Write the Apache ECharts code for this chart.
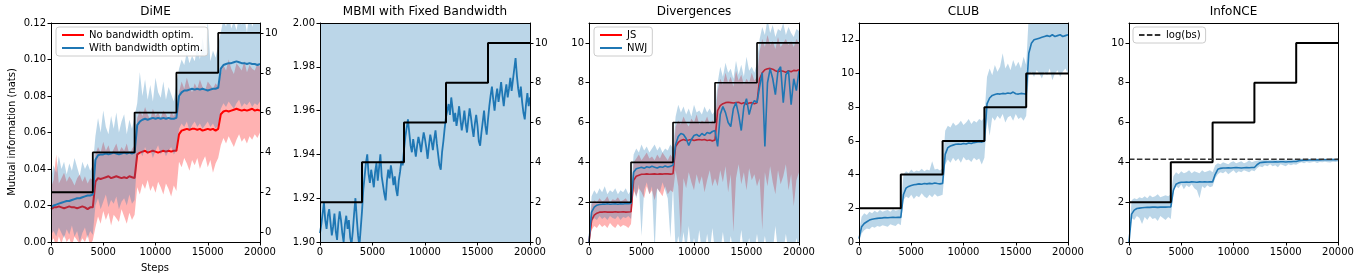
<!DOCTYPE html>
<html><head><meta charset="utf-8">
<script src="https://cdn.jsdelivr.net/npm/echarts@6/dist/echarts.min.js"></script>
<style>html,body{margin:0;padding:0;background:#fff}#c{width:1360px;height:280px}</style>
</head><body><div id="c"></div>
<script>
// ---------------- DATA (logged every DX training steps) ----------------
const DX = 250;
const DX_MBMI = 125;
const stepX = [0, 4000, 8000, 12000, 16000, 20000];
const trueMI = [2, 4, 6, 8, 10, 10];
const logBs = 4.16;
const titles = ['DiME', 'MBMI with Fixed Bandwidth', 'Divergences', 'CLUB', 'InfoNCE'];
const xTicks = [0, 5000, 10000, 15000, 20000];

// DiME (nats, left axis)
const dimeRed = [0.018,0.019,0.019,0.0195,0.019,0.0185,0.019,0.0195,0.019,0.019,0.0185,0.019,0.0195,0.019,0.018,0.019,0.019,
 0.033,0.035,0.0345,0.035,0.0355,0.036,0.035,0.0355,0.036,0.0355,0.035,0.0355,0.035,0.036,0.0355,0.035,
 0.048,0.049,0.0495,0.05,0.049,0.0495,0.05,0.0495,0.049,0.0495,0.05,0.0495,0.05,0.0495,0.05,0.05,
 0.059,0.061,0.0615,0.062,0.0615,0.062,0.062,0.0615,0.062,0.061,0.0615,0.062,0.0615,0.062,0.061,0.062,
 0.07,0.0715,0.072,0.0715,0.072,0.0725,0.073,0.0725,0.072,0.0725,0.072,0.0725,0.073,0.072,0.0725,0.072];
const dimeRedLo = [0.0,0.002,-0.003,0.003,-0.001,0.004,0.0,0.002,-0.002,0.003,0.001,-0.001,0.002,0.0,0.004,-0.002,0.001,
 0.008,0.014,0.01,0.017,0.012,0.016,0.009,0.015,0.013,0.011,0.018,0.014,0.01,0.016,0.012,0.015,
 0.03,0.026,0.032,0.029,0.034,0.028,0.031,0.027,0.033,0.03,0.026,0.032,0.029,0.025,0.031,0.028,
 0.044,0.041,0.046,0.043,0.039,0.045,0.042,0.046,0.04,0.044,0.047,0.041,0.045,0.038,0.043,0.046,
 0.053,0.057,0.054,0.058,0.055,0.052,0.056,0.059,0.055,0.057,0.054,0.058,0.056,0.059,0.057,0.06];
const dimeRedHi = [0.03,0.034,0.048,0.032,0.035,0.038,0.033,0.036,0.034,0.031,0.035,0.037,0.033,0.036,0.032,0.035,0.034,
 0.048,0.052,0.049,0.055,0.05,0.053,0.048,0.051,0.054,0.049,0.052,0.05,0.054,0.048,0.051,0.053,
 0.068,0.072,0.069,0.074,0.07,0.067,0.073,0.069,0.071,0.068,0.072,0.07,0.067,0.071,0.069,0.072,
 0.082,0.088,0.084,0.09,0.085,0.082,0.087,0.084,0.089,0.085,0.083,0.088,0.086,0.084,0.087,0.085,
 0.092,0.097,0.094,0.1,0.095,0.092,0.098,0.096,0.094,0.099,0.093,0.097,0.095,0.094,0.098,0.096];
const dimeBlue = [0.019,0.02,0.0205,0.021,0.0215,0.022,0.0225,0.0225,0.023,0.0235,0.024,0.024,0.0245,0.025,0.0255,0.0255,0.026,
 0.045,0.0475,0.048,0.048,0.0485,0.048,0.0485,0.049,0.0485,0.048,0.0485,0.049,0.0485,0.049,0.0485,0.049,
 0.064,0.066,0.067,0.0675,0.067,0.0675,0.068,0.0675,0.068,0.0675,0.068,0.0675,0.068,0.0675,0.0675,0.068,
 0.08,0.082,0.083,0.083,0.0835,0.084,0.0835,0.084,0.0835,0.084,0.0835,0.083,0.0835,0.084,0.084,0.0845,
 0.095,0.097,0.0975,0.098,0.098,0.0985,0.099,0.0985,0.098,0.098,0.0975,0.098,0.0975,0.0975,0.097,0.0975];
const dimeBlueLo = [0.004,0.006,0.003,0.008,0.005,0.002,0.007,0.004,0.009,0.003,0.006,0.0,0.005,0.008,0.002,0.006,0.004,
 0.02,0.024,0.018,0.022,0.026,0.019,0.023,0.021,0.025,0.018,0.022,0.024,0.02,0.026,0.021,0.023,
 0.046,0.05,0.047,0.052,0.048,0.051,0.046,0.05,0.053,0.048,0.051,0.047,0.05,0.052,0.048,0.05,
 0.062,0.065,0.063,0.066,0.061,0.064,0.066,0.063,0.065,0.062,0.064,0.066,0.063,0.065,0.062,0.064,
 0.073,0.076,0.074,0.077,0.075,0.073,0.076,0.078,0.074,0.076,0.075,0.077,0.074,0.076,0.075,0.077];
const dimeBlueHi = [0.035,0.042,0.038,0.047,0.04,0.044,0.037,0.043,0.039,0.046,0.041,0.036,0.044,0.04,0.043,0.039,0.042,
 0.058,0.068,0.06,0.072,0.063,0.059,0.069,0.062,0.071,0.06,0.066,0.07,0.059,0.067,0.062,0.069,
 0.076,0.093,0.08,0.089,0.078,0.086,0.077,0.09,0.082,0.079,0.088,0.078,0.085,0.081,0.077,0.087,
 0.095,0.1,0.097,0.104,0.098,0.102,0.099,0.107,0.1,0.112,0.103,0.121,0.099,0.105,0.101,0.108,
 0.115,0.122,0.118,0.125,0.117,0.121,0.116,0.124,0.119,0.123,0.115,0.126,0.118,0.122,0.12,0.124];

// MBMI with fixed bandwidth (logged every DX_MBMI steps)
const mbmi = [1.904,1.908,1.913,1.918,1.91,1.906,1.912,1.915,1.909,1.903,1.907,1.913,1.905,1.901,1.909,1.914,1.91,1.904,1.9,1.908,1.912,1.906,1.91,1.902,1.899,1.905,1.913,1.92,1.911,1.903,1.898,1.906,1.914,
 1.924,1.93,1.936,1.94,1.931,1.927,1.933,1.929,1.925,1.932,1.936,1.928,1.934,1.94,1.93,1.926,1.922,1.919,1.928,1.933,1.929,1.935,1.931,1.926,1.93,1.924,1.921,1.928,1.932,1.937,1.935,1.942,
 1.948,1.952,1.956,1.95,1.944,1.941,1.947,1.943,1.939,1.944,1.948,1.945,1.941,1.946,1.95,1.947,1.943,1.938,1.944,1.949,1.946,1.942,1.947,1.951,1.945,1.94,1.935,1.933,1.941,1.946,1.952,1.957,
 1.96,1.963,1.958,1.966,1.961,1.955,1.959,1.953,1.957,1.962,1.956,1.951,1.955,1.96,1.954,1.95,1.956,1.961,1.957,1.952,1.948,1.954,1.958,1.953,1.946,1.944,1.95,1.955,1.96,1.953,1.949,1.956,
 1.962,1.967,1.971,1.965,1.96,1.966,1.97,1.964,1.968,1.973,1.967,1.962,1.968,1.972,1.966,1.97,1.975,1.969,1.974,1.979,1.984,1.976,1.97,1.966,1.971,1.964,1.959,1.956,1.963,1.968,1.962,1.966];
const mbmiLo = [1.78, 1.80, 1.82, 1.83, 1.85, 1.86];   // at stepX
const mbmiHi = [2.03, 2.05, 2.07, 2.08, 2.10, 2.11];   // at stepX

// Divergences
const jsMean = [0.0,1.1,1.35,1.45,1.5,1.5,1.52,1.5,1.51,1.5,1.52,1.5,1.51,1.52,1.5,1.51,1.52,
 3.1,3.3,3.35,3.4,3.4,3.42,3.4,3.41,3.42,3.4,3.42,3.41,3.43,3.42,3.41,3.43,
 4.8,5.0,5.1,5.15,5.1,5.12,5.15,5.1,5.13,5.15,5.12,5.15,5.1,5.12,5.08,5.12,
 6.6,6.85,6.95,7.0,7.02,7.0,6.98,7.0,7.02,6.95,7.0,6.92,6.98,7.0,6.95,7.0,
 8.2,8.5,8.65,8.7,8.72,8.68,8.6,8.55,8.6,8.58,8.52,8.6,8.55,8.62,8.6,8.65];
const jsLo = [0.0,0.6,0.8,0.7,0.9,0.75,0.85,0.7,0.95,0.8,0.7,0.9,0.75,0.85,0.8,0.7,0.9,
 2.6,2.3,2.7,2.5,2.2,2.8,2.4,2.6,2.1,2.7,2.5,2.3,2.8,2.4,2.6,2.5,
 3.6,2.8,0.2,3.2,2.7,3.5,3.0,2.6,3.4,2.9,3.3,2.5,3.1,3.6,2.8,3.2,
 2.8,3.6,3.0,3.8,2.5,3.4,0.5,3.2,3.9,2.9,3.5,2.6,3.7,3.1,3.4,2.8,
 3.2,0.6,3.5,2.8,3.8,3.0,2.4,3.6,2.9,3.3,3.9,2.6,3.4,1.8,3.1,3.5];
const jsHi = [0.5,1.9,2.1,2.0,2.2,2.05,2.1,2.3,2.0,2.15,2.1,2.25,2.05,2.1,2.2,2.0,2.1,
 4.0,4.2,4.4,4.1,4.3,4.5,4.2,4.3,4.1,4.4,4.2,4.5,4.3,4.1,4.4,4.2,
 5.8,6.1,5.9,6.3,6.0,5.8,6.2,6.0,6.4,5.9,6.1,6.0,6.3,5.9,6.1,6.0,
 7.6,8.2,7.9,8.5,8.0,8.3,7.8,8.6,8.1,8.4,7.9,8.2,8.0,8.5,8.1,8.3,
 9.6,10.2,9.8,10.4,9.9,10.1,9.7,10.3,9.8,10.0,10.2,9.9,10.1,9.8,10.2,10.0];
const nwjMean = [0.0,1.5,1.75,1.85,1.88,1.9,1.9,1.92,1.9,1.91,1.92,1.9,1.92,1.91,1.93,1.92,1.93,
 3.5,3.68,3.72,3.75,3.7,3.78,3.74,3.8,3.76,3.72,3.78,3.75,3.82,3.77,3.8,3.85,
 4.9,5.3,5.45,5.4,5.2,4.85,5.15,5.35,5.4,5.3,5.45,5.35,5.5,5.45,5.55,5.6,
 4.8,6.4,6.8,6.5,6.0,5.8,6.7,7.0,6.4,5.6,6.8,7.2,6.4,6.9,7.1,7.0,
 7.8,8.5,4.8,8.0,8.7,8.2,7.4,8.6,8.8,7.0,8.4,8.6,6.9,8.2,7.6,8.6];
const nwjLo = [0.0,1.0,1.2,1.1,1.3,1.15,1.25,1.1,1.3,1.2,1.15,1.3,1.1,1.25,1.2,1.3,1.15,
 2.8,2.2,2.9,0.3,2.6,3.0,2.4,2.8,-0.5,2.7,2.5,3.0,2.6,2.2,0.2,2.8,
 -0.5,0.3,-0.5,0.5,-0.5,0.8,-0.5,0.2,-0.5,0.6,-0.5,-0.5,0.4,-0.5,0.7,-0.5,
 -0.5,-0.5,0.5,-0.5,-0.5,0.3,-0.5,-0.5,-0.5,0.6,-0.5,-0.5,0.2,-0.5,-0.5,0.4,
 -0.5,-0.5,0.3,-0.5,-0.5,-0.5,0.8,-0.5,-0.5,-0.5,0.4,-0.5,-0.5,-0.5,0.2,-0.5];
const nwjHi = [0.5,2.3,2.6,2.4,2.7,2.5,2.8,2.4,2.6,2.5,2.7,2.4,2.6,2.5,2.7,2.4,2.6,
 4.4,4.7,4.5,4.9,4.6,4.8,4.5,4.7,4.9,4.6,4.8,4.5,4.7,4.6,4.9,4.7,
 6.3,6.9,6.5,6.8,6.4,6.7,6.3,6.9,6.5,6.6,6.4,6.8,6.5,6.7,6.4,6.6,
 8.0,8.8,8.3,9.0,8.5,8.7,8.2,9.1,8.4,8.9,8.3,9.3,8.6,8.8,8.5,9.0,
 10.2,10.8,10.4,11.2,10.5,10.9,10.3,10.7,10.6,11.0,10.4,10.8,10.5,10.3,10.7,10.6];

// CLUB
const club = [0.2,0.9,1.1,1.2,1.3,1.35,1.38,1.4,1.42,1.43,1.45,1.44,1.45,1.46,1.45,1.47,1.46,
 2.8,3.2,3.3,3.35,3.4,3.42,3.45,3.43,3.47,3.45,3.48,3.46,3.5,3.47,3.45,3.48,
 5.2,5.6,5.7,5.75,5.8,5.82,5.8,5.85,5.82,5.88,5.85,5.9,5.92,5.95,5.93,5.98,
 8.2,8.55,8.7,8.75,8.8,8.78,8.82,8.8,8.85,8.82,8.9,8.8,8.78,8.82,8.8,8.78,
 11.2,11.8,12.0,12.05,12.1,12.15,12.2,12.25,12.2,12.3,12.2,12.25,12.3,12.2,12.25,12.3];
const clubLo = [0.0,0.5,0.7,0.8,0.75,0.9,0.85,0.95,0.9,1.0,0.95,0.9,1.05,1.0,0.95,1.1,1.0,
 2.5,2.7,2.6,2.8,2.55,2.75,2.65,2.9,2.7,2.6,2.8,2.65,2.85,2.7,2.75,2.8,
 4.6,4.9,4.7,5.0,4.8,4.95,4.7,5.05,4.85,4.9,4.75,5.0,4.85,4.95,4.6,5.0,
 7.3,6.3,7.4,7.2,7.5,7.3,7.6,7.1,7.4,7.5,7.2,7.6,7.3,7.4,7.2,7.5,
 9.9,10.1,9.8,10.2,10.0,9.7,10.1,9.9,10.3,9.6,10.0,10.2,9.8,10.1,10.3,10.0];
const clubHi = [0.6,1.5,1.7,1.6,1.8,1.7,1.85,1.75,1.9,1.8,1.85,1.9,1.8,1.95,1.85,1.9,1.95,
 4.0,4.2,4.1,4.3,4.15,4.25,4.2,4.35,4.2,4.3,4.25,4.8,4.3,4.35,4.25,4.4,
 6.6,6.9,6.8,7.1,6.9,7.0,7.2,6.95,7.1,7.3,7.0,7.2,7.1,7.3,7.2,7.4,
 9.8,10.3,9.9,10.5,10.1,10.4,11.2,10.3,10.6,10.2,10.8,10.4,10.7,10.3,11.0,10.5,
 13.5,14.2,14.0,14.5,14.1,14.3,14.6,14.2,14.4,14.1,14.5,14.3,14.2,14.6,14.4,14.3];

// InfoNCE
const nce = [0.0,1.4,1.6,1.68,1.7,1.72,1.73,1.74,1.74,1.75,1.75,1.74,1.75,1.76,1.75,1.76,1.76,
 2.6,2.9,2.97,3.0,3.0,3.01,3.0,3.02,3.01,3.0,3.02,3.01,3.02,3.01,3.02,3.02,
 3.4,3.65,3.7,3.72,3.72,3.73,3.72,3.73,3.74,3.73,3.72,3.73,3.74,3.73,3.74,3.74,
 3.88,3.98,4.0,4.01,4.02,4.02,4.02,4.03,4.02,4.03,4.03,4.02,4.03,4.03,4.04,4.04,
 4.08,4.1,4.11,4.11,4.12,4.12,4.12,4.13,4.12,4.13,4.13,4.13,4.13,4.14,4.13,4.14];
const nceLo = [0.0,1.2,1.1,1.3,1.2,0.9,1.25,1.1,1.3,1.15,1.2,1.05,1.3,1.2,1.1,1.25,1.15,
 2.6,2.8,2.7,2.9,2.65,2.85,2.75,2.9,2.7,2.6,2.2,2.8,2.7,2.85,2.75,2.8,
 3.2,3.4,3.5,3.45,3.55,3.4,3.5,3.6,3.45,3.55,3.5,3.6,3.55,3.5,3.6,3.55,
 3.7,3.8,3.75,3.85,3.8,3.9,3.8,3.85,3.75,3.9,3.85,3.8,3.9,3.85,3.9,3.88,
 3.95,4.0,3.95,4.02,3.98,4.0,4.03,3.97,4.02,4.0,4.03,4.01,3.99,4.03,4.02,4.04];
const nceHi = [0.3,2.1,2.2,2.15,2.25,2.2,2.3,2.2,2.35,2.25,2.3,2.4,2.25,2.3,2.35,2.3,2.4,
 3.3,3.5,3.4,3.55,3.45,3.5,3.6,3.45,3.55,3.5,3.45,3.6,3.5,3.55,3.6,3.5,
 3.85,3.95,3.9,4.0,3.95,3.9,4.0,4.05,3.95,4.0,4.05,3.95,4.0,4.1,4.0,4.05,
 4.08,4.12,4.1,4.14,4.1,4.12,4.15,4.1,4.13,4.12,4.14,4.12,4.15,4.13,4.14,4.15,
 4.15,4.18,4.16,4.2,4.17,4.19,4.18,4.2,4.17,4.19,4.2,4.18,4.19,4.2,4.18,4.2];

// ---------------- CHART ----------------
const FONT = 'DejaVu Sans';
const BLUE = '#1f77b4', RED = '#ff0000';
const BLUE_BAND = 'rgba(31,119,180,0.3)', RED_BAND = 'rgba(255,0,0,0.3)';
const GR = [[51,209],[320,210],[589,210],[859,209],[1129,209]];
const TOP = 23, H = 219;

const xsOf = (arr, dx) => arr.map((_, i) => i * dx);
const pairs = (xs, ys) => ys.map((v, i) => [xs[i], v]);

const grid = GR.map(([l, w]) => ({left: l, top: TOP, width: w, height: H, containLabel: false}));

const xAxis = [];
GR.forEach((_, g) => {
  ['bottom', 'top'].forEach(pos => {
    xAxis.push({type: 'value', gridIndex: g, position: pos, min: 0, max: 20000, z: 10,
      axisLine: {show: true, onZero: false, lineStyle: {color: '#000', width: 1}},
      axisTick: {show: pos === 'bottom', length: 3.5, lineStyle: {color: '#000', width: 1}, customValues: xTicks},
      axisLabel: {show: pos === 'bottom', color: '#000', fontSize: 10, fontFamily: FONT, margin: 5,
        customValues: xTicks, formatter: v => String(v)},
      splitLine: {show: false}});
  });
});

const evenTicks = n => { const t = []; for (let v = 0; v <= n; v += 2) t.push(v); return t; };
const yConf = [
  {left: {min: 0, max: 0.12, ticks: [0, 0.02, 0.04, 0.06, 0.08, 0.1, 0.12], fmt: v => v.toFixed(2)},
   right: {min: -0.5, max: 10.5, ticks: evenTicks(10), show: true}},
  {left: {min: 1.9, max: 2.0, ticks: [1.9, 1.92, 1.94, 1.96, 1.98, 2.0], fmt: v => v.toFixed(2)},
   right: {min: 0, max: 11, ticks: evenTicks(10), show: true}},
  {left: {min: 0, max: 11, ticks: evenTicks(10)}, right: {min: 0, max: 11, ticks: [], show: false}},
  {left: {min: 0, max: 13, ticks: evenTicks(12)}, right: {min: 0, max: 13, ticks: [], show: false}},
  {left: {min: 0, max: 11, ticks: evenTicks(10)}, right: {min: 0, max: 11, ticks: [], show: false}},
];
const yAxis = [];
yConf.forEach((c, g) => {
  ['left', 'right'].forEach(pos => {
    const s = c[pos];
    const show = pos === 'left' ? true : s.show;
    yAxis.push({type: 'value', gridIndex: g, position: pos, min: s.min, max: s.max, z: 10,
      axisLine: {show: true, onZero: false, lineStyle: {color: '#000', width: 1}},
      axisTick: {show: show, length: 3.5, lineStyle: {color: '#000', width: 1}, customValues: s.ticks},
      axisLabel: {show: show, color: '#000', fontSize: 10, fontFamily: FONT, margin: 5,
        customValues: s.ticks, formatter: s.fmt || (v => String(Math.round(v)))},
      splitLine: {show: false}});
  });
});

function line(name, xs, ys, color, g, yi, width, z, extra) {
  return Object.assign({type: 'line', name: name, xAxisIndex: 2 * g, yAxisIndex: yi,
    data: pairs(xs, ys), showSymbol: false, symbol: 'none', animation: false, silent: true, z: z,
    lineStyle: {color: color, width: width}, itemStyle: {color: color}}, extra || {});
}
// shaded spread: polygon through the upper values then back along the lower values
function band(xs, lo, hi, color, g, yi, z) {
  return {type: 'custom', xAxisIndex: 2 * g, yAxisIndex: yi, clip: true, silent: true, z: z, animation: false,
    data: [[xs[0], lo[0]]], encode: {x: 0, y: 1},
    renderItem: (params, api) => {
      const pts = [];
      for (let i = 0; i < xs.length; i++) pts.push(api.coord([xs[i], hi[i]]));
      for (let i = xs.length - 1; i >= 0; i--) pts.push(api.coord([xs[i], lo[i]]));
      return {type: 'polygon', shape: {points: pts}, style: {fill: color}};
    }};
}
function steps(g, yi, z, w) {
  return line('true', stepX, trueMI, '#000', g, yi, w, z, {step: 'end'});
}

const X = xsOf(dimeRed, DX);
const XM = xsOf(mbmi, DX_MBMI);
const series = [
  band(X, dimeRedLo, dimeRedHi, RED_BAND, 0, 0, 2),
  line('No bandwidth optim.', X, dimeRed, RED, 0, 0, 2, 3),
  band(X, dimeBlueLo, dimeBlueHi, BLUE_BAND, 0, 0, 4),
  line('With bandwidth optim.', X, dimeBlue, BLUE, 0, 0, 2, 5),
  steps(0, 1, 6, 1.8),

  band(stepX, mbmiLo, mbmiHi, BLUE_BAND, 1, 2, 2),
  line('MBMI', XM, mbmi, BLUE, 1, 2, 1.8, 3),
  steps(1, 3, 6, 2),

  band(X, jsLo, jsHi, RED_BAND, 2, 4, 2),
  line('JS', X, jsMean, RED, 2, 4, 1.6, 3),
  band(X, nwjLo, nwjHi, BLUE_BAND, 2, 4, 4),
  line('NWJ', X, nwjMean, BLUE, 2, 4, 1.6, 5),
  steps(2, 4, 6, 1.6),

  band(X, clubLo, clubHi, BLUE_BAND, 3, 6, 2),
  line('CLUB', X, club, BLUE, 3, 6, 1.6, 3),
  steps(3, 6, 6, 2),

  band(X, nceLo, nceHi, BLUE_BAND, 4, 8, 2),
  line('InfoNCE', X, nce, BLUE, 4, 8, 1.6, 3),
  steps(4, 8, 6, 2),
  line('log(bs)', [0, 20000], [logBs, logBs], '#333', 4, 8, 1.6, 7, {lineStyle: {color: '#333', width: 1.6, type: [5.5, 2.4]}}),
];

const legendBase = {orient: 'vertical', itemWidth: 22, itemHeight: 12, itemGap: 3, padding: [3, 5],
  backgroundColor: 'rgba(255,255,255,0.85)', borderColor: '#cccccc', borderWidth: 1, borderRadius: 3, z: 20,
  selectedMode: false, itemStyle: {opacity: 0}, textStyle: {color: '#000', fontSize: 10, fontFamily: FONT}};
const legend = [
  Object.assign({}, legendBase, {left: 56, top: 27, data: ['No bandwidth optim.', 'With bandwidth optim.']}),
  Object.assign({}, legendBase, {left: 594, top: 27, data: ['JS', 'NWJ']}),
  Object.assign({}, legendBase, {left: 1133, top: 27, data: ['log(bs)']}),
];

const graphic = titles.map((t, g) => ({type: 'text', x: GR[g][0] + GR[g][1] / 2, y: 12, silent: true,
  style: {text: t, textAlign: 'center', textVerticalAlign: 'middle', fontSize: 12, fontFamily: FONT, fill: '#000'}}));
graphic.push({type: 'text', x: 155, y: 268, silent: true,
  style: {text: 'Steps', textAlign: 'center', textVerticalAlign: 'middle', fontSize: 10, fontFamily: FONT, fill: '#000'}});
graphic.push({type: 'text', x: 12, y: 132, rotation: Math.PI / 2, silent: true,
  style: {text: 'Mutual information (nats)', textAlign: 'center', textVerticalAlign: 'middle', fontSize: 10, fontFamily: FONT, fill: '#000'}});

const chart = echarts.init(document.getElementById('c'));
chart.setOption({animation: false, backgroundColor: '#fff', grid, xAxis, yAxis, series, legend, graphic});
</script>
</body></html>
